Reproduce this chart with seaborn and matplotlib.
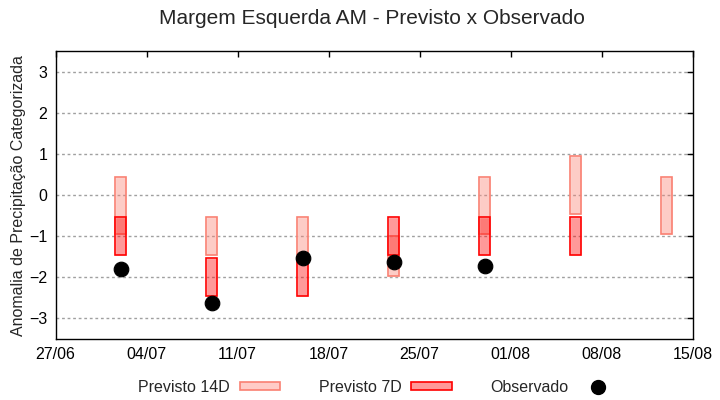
import pandas as pd
import numpy as np
import seaborn as sns
import matplotlib.pyplot as plt
import matplotlib.dates as mdates
from matplotlib.patches import Patch
from matplotlib.lines import Line2D

# Datas das previsoes (semanais)
datas = ['2024-07-02', '2024-07-09', '2024-07-16', '2024-07-23',
         '2024-07-30', '2024-08-06', '2024-08-13']

# Previsto 14D (limite inferior / superior)
p14_inf = [-0.95, -1.45, -1.45, -1.97, -0.95, -0.45, -0.95]
p14_sup = [0.45, -0.52, -0.52, -1.0, 0.45, 0.95, 0.45]

# Previsto 7D (limite inferior / superior)
p7_inf = [-1.45, -2.45, -2.45, -1.45, -1.45, -1.45, np.nan]
p7_sup = [-0.52, -1.52, -1.52, -0.52, -0.52, -0.52, np.nan]

# Observado
obs = [-1.8, -2.62, -1.52, -1.62, -1.72, np.nan, np.nan]

xticks = ['2024-06-27', '2024-07-04', '2024-07-11', '2024-07-18',
          '2024-07-25', '2024-08-01', '2024-08-08', '2024-08-15']

df = pd.DataFrame({
    'data': pd.to_datetime(datas),
    'p14_inf': p14_inf, 'p14_sup': p14_sup,
    'p7_inf': p7_inf, 'p7_sup': p7_sup,
    'obs': obs,
})

sns.set_style("white")
plt.rcParams['font.family'] = ['Liberation Sans', 'DejaVu Sans']

fig = plt.figure(figsize=(7.2, 4), dpi=100)
ax = fig.add_axes([55.5 / 720, (400 - 339) / 400, (692.5 - 55.5) / 720, (339 - 51.3) / 400])
xc = (55.5 + 692.5) / 2 / 720

largura = 0.92  # dias
ax.bar(df['data'], df['p14_sup'] - df['p14_inf'], bottom=df['p14_inf'],
       width=largura, color='salmon', alpha=0.4, zorder=2)
ax.bar(df['data'], df['p14_sup'] - df['p14_inf'], bottom=df['p14_inf'],
       width=largura, facecolor='none', edgecolor='salmon', lw=1.2, zorder=2)

m7 = df['p7_inf'].notna()
ax.bar(df['data'][m7], (df['p7_sup'] - df['p7_inf'])[m7], bottom=df['p7_inf'][m7],
       width=largura, color='red', alpha=0.4, zorder=3)
ax.bar(df['data'][m7], (df['p7_sup'] - df['p7_inf'])[m7], bottom=df['p7_inf'][m7],
       width=largura, facecolor='none', edgecolor='red', lw=1.2, zorder=3)

sns.scatterplot(data=df.dropna(subset=['obs']), x='data', y='obs', ax=ax,
                color='black', s=110, edgecolor='black', zorder=4, legend=False)

ax.set_xlim(pd.Timestamp(xticks[0]), pd.Timestamp(xticks[-1]))
ax.set_ylim(-3.5, 3.5)
ax.set_yticks([-3, -2, -1, 0, 1, 2, 3])
ax.set_xticks(pd.to_datetime(xticks))
ax.xaxis.set_major_formatter(mdates.DateFormatter('%d/%m'))

ax.grid(axis='y', color='#a0a0a0', linestyle=(0, (2, 2)), lw=1, zorder=1)
ax.grid(axis='x', visible=False)
for s in ax.spines.values():
    s.set_color('black')
    s.set_linewidth(1)
ax.tick_params(direction='in', length=4, width=1, top=True, right=True,
               labelsize=11.5, colors='black', pad=6)

ax.set_xlabel('')
ax.set_ylabel('Anomalia de Precipitação Categorizada', fontsize=11.5, labelpad=2)
fig.suptitle('Margem Esquerda AM - Previsto x Observado', fontsize=15,
             x=xc - 0.003, y=0.978)

handles = [
    Patch(facecolor=(1, 0.5, 0.45, 0.4), edgecolor='salmon', lw=1.2),
    Patch(facecolor=(1, 0, 0, 0.4), edgecolor='red', lw=1.2),
    Line2D([], [], marker='o', ls='none', color='black', markersize=10),
]
fig.legend(handles, ['Previsto 14D', 'Previsto 7D', 'Observado'],
           loc='center', bbox_to_anchor=(xc + 0.006, 0.032), ncol=3, frameon=False,
           markerfirst=False, fontsize=11.5, handlelength=2.55, handleheight=0.45,
           handletextpad=0.6, columnspacing=2.4)

plt.savefig('out.png', dpi=100)
